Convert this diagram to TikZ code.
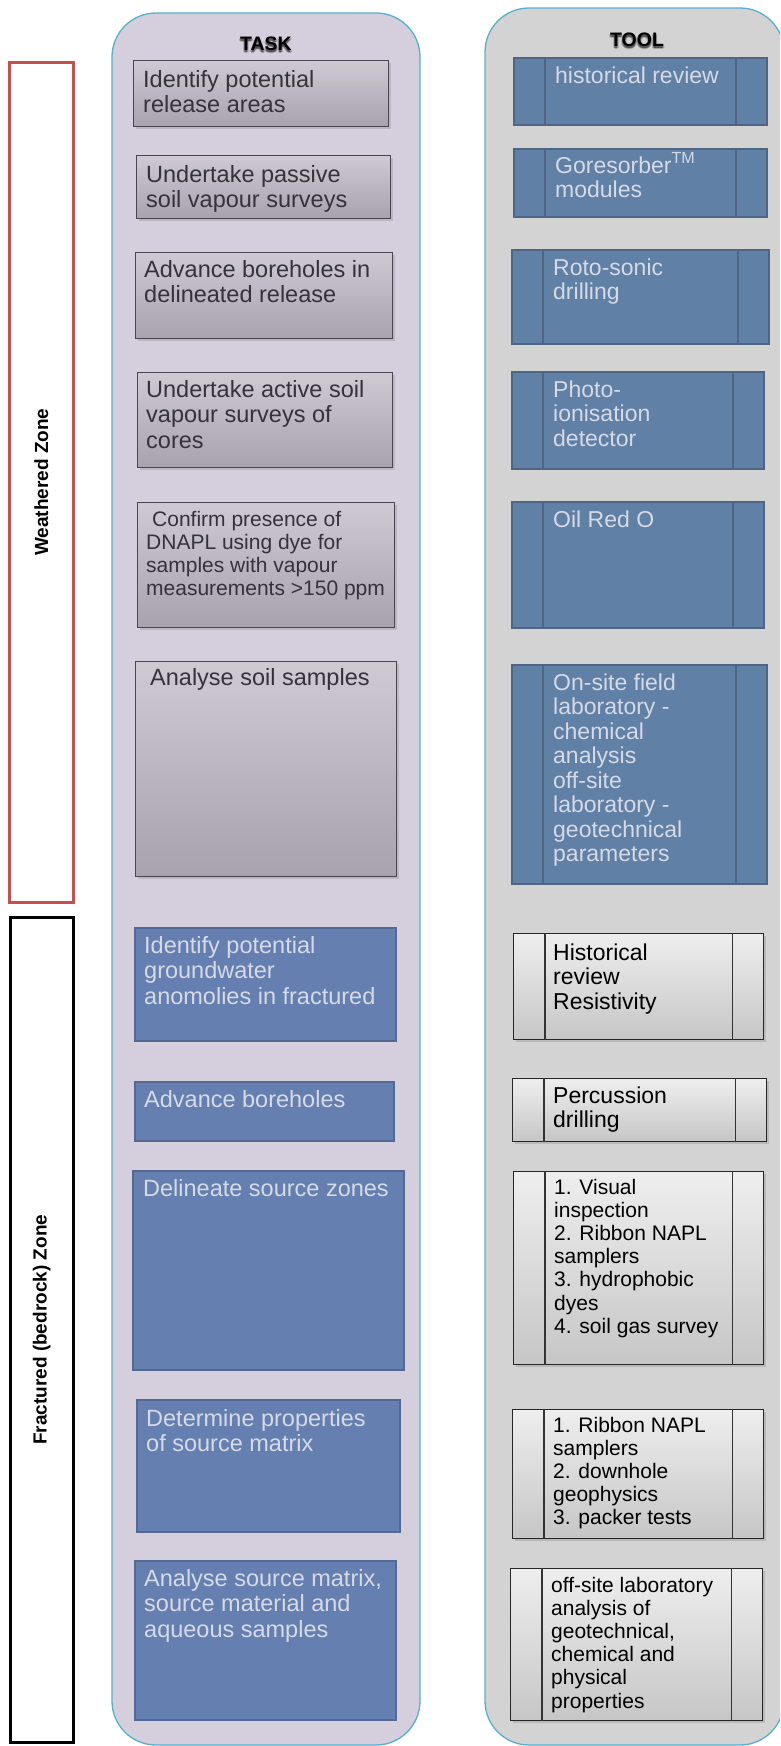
\documentclass[tikz,border=0pt]{standalone}
\usepackage{fontspec}
\setmainfont{Liberation Sans}
\usetikzlibrary{shadows}

\definecolor{taskbg}{RGB}{213,207,221}
\definecolor{toolbg}{RGB}{211,211,211}
\definecolor{coledge}{RGB}{86,176,204}
\definecolor{greytop}{RGB}{206,201,211}
\definecolor{greybot}{RGB}{168,162,175}
\definecolor{greyedge}{RGB}{72,68,80}
\definecolor{greytext}{RGB}{52,50,58}
\definecolor{bluefill}{RGB}{101,128,176}
\definecolor{blueedge}{RGB}{84,104,148}
\definecolor{tbluefill}{RGB}{96,128,166}
\definecolor{tblueedge}{RGB}{78,101,133}
\definecolor{lighttext}{RGB}{214,218,230}
\definecolor{silvertop}{RGB}{238,238,238}
\definecolor{silverbot}{RGB}{198,198,198}
\definecolor{zonered}{RGB}{198,80,78}

\tikzset{
  column/.style={draw=coledge, line width=1.3pt, rounded corners=44pt},
  softshadow/.style={drop shadow={shadow xshift=2pt, shadow yshift=-2.5pt, opacity=0.3}},
  greybox/.style={draw=greyedge, line width=1.3pt, top color=greytop, bottom color=greybot, softshadow},
  bluebox/.style={draw=blueedge, fill=bluefill, line width=2pt},
  toolblue/.style={draw=tblueedge, fill=tbluefill, line width=2pt},
  silverbox/.style={draw=black!85, line width=1.3pt, top color=silvertop, bottom color=silverbot, softshadow},
  bluebar/.style={draw=tblueedge, line width=2pt},
  silverbar/.style={draw=black!80, line width=1.1pt},
  bigtxt/.style={font=\fontsize{23.5}{25.5}\selectfont},
  tooltxt/.style={font=\fontsize{23}{24.5}\selectfont},
  smalltxt/.style={font=\fontsize{21}{23.2}\selectfont},
  headtxt/.style={font=\bfseries\fontsize{19.5}{20}\selectfont},
  headglow/.style={headtxt, text=black, opacity=0.22},
  zonetxt/.style={font=\bfseries\fontsize{19}{20}\selectfont, rotate=90},
  darkwords/.style={text=greytext},
  lightwords/.style={text=lighttext},
  blackwords/.style={text=black},
}

% panel: name, style, x1, y1, x2, y2 (pixel units, y downwards)
\newcommand\panel[6]{\node[#2, anchor=north west, inner sep=0pt,
  minimum width={#5-#3}, minimum height={#6-#4}] (#1) at (#3,#4) {};}
% words: name, style, x, baseline y, text
\newcommand\words[5]{\node[#2, anchor=base west, inner sep=0pt] (#1) at (#3,#4)
  {\parbox[t]{250pt}{\raggedright #5}};}
% vertical bars inside a tool box
\newcommand\sidebars[2]{%
  \draw[#2] ([xshift=32pt]#1.north west) -- ([xshift=32pt]#1.south west);
  \draw[#2] ([xshift=-32pt]#1.north east) -- ([xshift=-32pt]#1.south east);}
% heading with a soft dark glow: name, x, y, text
\newcommand\heading[4]{%
  \node[headglow] (#1g1) at (#2,#3+1.5) {#4};
  \node[headglow] (#1g2) at (#2+1.2,#3+2.2) {#4};
  \node[headglow] (#1g3) at (#2-1.2,#3+2.2) {#4};
  \node[headglow] (#1g4) at (#2,#3+3.2) {#4};
  \node[headtxt] (#1) at (#2,#3) {#4};}

\begin{document}
\begin{tikzpicture}[x=1pt, y=-1pt]
\useasboundingbox (0,0) rectangle (780,1746);
\clip (0,0) rectangle (780,1746);

% columns
\draw[column, fill=taskbg] (112,13) rectangle (420,1745);
\draw[column, fill=toolbg] (485,8) rectangle (784,1745);

% headings
\heading{taskhead}{266}{44}{TASK}
\heading{toolhead}{637}{40}{TOOL}

% zones
\panel{wzone}{draw=zonered, line width=2.5pt, fill=white}{8}{61}{72}{901}
\node[zonetxt] (wzonelabel) at (wzone.center) {Weathered Zone};
\panel{fzone}{draw=black, line width=2.5pt, fill=white}{9}{916}{72}{1741}
\node[zonetxt] (fzonelabel) at (fzone.center) {Fractured (bedrock) Zone};

% tasks, weathered zone
\panel{t1}{greybox}{133}{60}{388}{126}
\words{t1w}{bigtxt,darkwords}{143}{87}{Identify potential\\release areas}
\panel{t2}{greybox}{136}{155}{390}{218}
\words{t2w}{bigtxt,darkwords}{146}{182}{Undertake passive\\soil vapour surveys}
\panel{t3}{greybox}{135}{252}{392}{338}
\words{t3w}{bigtxt,darkwords}{144}{277}{Advance boreholes in\\delineated release}
\panel{t4}{greybox}{137}{372}{392}{467}
\words{t4w}{bigtxt,darkwords}{146}{397}{Undertake active soil\\vapour surveys of\\cores}
\panel{t5}{greybox}{137}{502}{394}{627}
\words{t5w}{smalltxt,darkwords}{146}{526}{\hspace*{6pt}Confirm presence of\\DNAPL using dye for\\samples with vapour\\measurements >150 ppm}
\panel{t6}{greybox}{135}{661}{396}{876}
\words{t6w}{bigtxt,darkwords}{150}{685}{Analyse soil samples}

% tasks, fractured zone
\panel{t7}{bluebox}{134}{927}{395}{1040}
\words{t7w}{bigtxt,lightwords}{144}{953}{Identify potential\\groundwater\\anomolies in fractured}
\panel{t8}{bluebox}{134}{1081}{393}{1140}
\words{t8w}{bigtxt,lightwords}{144}{1107}{Advance boreholes}
\panel{t9}{bluebox}{132}{1170}{403}{1369}
\words{t9w}{bigtxt,lightwords}{143}{1196}{Delineate source zones}
\panel{t10}{bluebox}{136}{1399}{399}{1531}
\words{t10w}{bigtxt,lightwords}{146}{1426}{Determine properties\\of source matrix}
\panel{t11}{bluebox}{134}{1560}{395}{1719}
\words{t11w}{bigtxt,lightwords}{144}{1586}{Analyse source matrix,\\source material and\\aqueous samples}

% tools, weathered zone
\panel{l1}{toolblue}{513}{57}{766}{124}
\sidebars{l1}{bluebar}
\words{l1w}{tooltxt,lightwords}{555}{83}{historical review}
\panel{l2}{toolblue}{513}{148}{766}{216}
\sidebars{l2}{bluebar}
\words{l2w}{tooltxt,lightwords}{555}{173}{Goresorber\textsuperscript{TM}\\modules}
\panel{l3}{toolblue}{511}{249}{768}{343}
\sidebars{l3}{bluebar}
\words{l3w}{tooltxt,lightwords}{553}{275}{Roto-sonic\\drilling}
\panel{l4}{toolblue}{511}{371}{763}{468}
\sidebars{l4}{bluebar}
\words{l4w}{tooltxt,lightwords}{553}{397}{Photo-\\ionisation\\detector}
\panel{l5}{toolblue}{511}{501}{763}{627}
\sidebars{l5}{bluebar}
\words{l5w}{tooltxt,lightwords}{553}{527}{Oil Red O}
\panel{l6}{toolblue}{511}{664}{766}{883}
\sidebars{l6}{bluebar}
\words{l6w}{tooltxt,lightwords}{553}{690}{On-site field\\laboratory -\\chemical\\analysis\\off-site\\laboratory -\\geotechnical\\parameters}

% tools, fractured zone
\panel{l7}{silverbox}{513}{933}{763}{1039}
\sidebars{l7}{silverbar}
\words{l7w}{tooltxt,blackwords}{553}{960}{Historical\\review\\Resistivity}
\panel{l8}{silverbox}{512}{1078}{766}{1141}
\sidebars{l8}{silverbar}
\words{l8w}{tooltxt,blackwords}{553}{1103}{Percussion\\drilling}
\panel{l9}{silverbox}{513}{1171}{763}{1364}
\sidebars{l9}{silverbar}
\words{l9w}{smalltxt,blackwords}{554}{1194}{1. Visual\\inspection\\2. Ribbon NAPL\\samplers\\3. hydrophobic\\dyes\\4. soil gas survey}
\panel{l10}{silverbox}{512}{1409}{763}{1538}
\sidebars{l10}{silverbar}
\words{l10w}{smalltxt,blackwords}{553}{1432}{1. Ribbon NAPL\\samplers\\2. downhole\\geophysics\\3. packer tests}
\panel{l11}{silverbox}{510}{1568}{762}{1720}
\sidebars{l11}{silverbar}
\words{l11w}{smalltxt,blackwords}{551}{1592}{off-site laboratory\\analysis of\\geotechnical,\\chemical and\\physical\\properties}
\end{tikzpicture}
\end{document}
